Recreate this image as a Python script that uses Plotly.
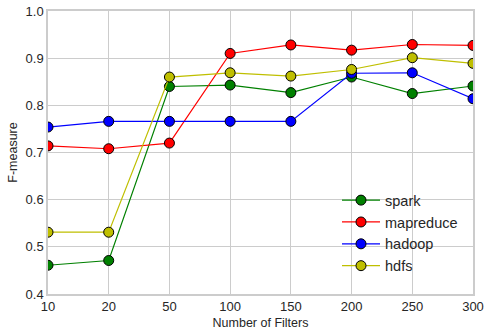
import plotly.graph_objects as go

categories = ["10", "20", "50", "100", "150", "200", "250", "300"]
spark = [0.461, 0.471, 0.840, 0.843, 0.827, 0.860, 0.825, 0.841]
mapreduce = [0.714, 0.708, 0.720, 0.910, 0.928, 0.917, 0.929, 0.927]
hadoop = [0.754, 0.766, 0.766, 0.766, 0.766, 0.868, 0.869, 0.814]
hdfs = [0.531, 0.531, 0.860, 0.869, 0.862, 0.876, 0.901, 0.889]
y_ticks = [0.4, 0.5, 0.6, 0.7, 0.8, 0.9, 1.0]

series = [
    ("spark", spark, "#008000"),
    ("mapreduce", mapreduce, "#ff0000"),
    ("hadoop", hadoop, "#0000ff"),
    ("hdfs", hdfs, "#bfbf00"),
]

fig = go.Figure()
for name, vals, col in series:
    fig.add_trace(go.Scatter(
        x=categories, y=vals, name=name, mode="lines+markers",
        line=dict(color=col, width=1.2),
        marker=dict(color=col, size=10, line=dict(color="black", width=1)),
    ))

txt = "#262626"
fig.update_layout(
    width=484, height=334,
    margin=dict(l=48, r=11, t=11, b=40),
    paper_bgcolor="white", plot_bgcolor="white",
    font=dict(family="Liberation Sans, Arial, sans-serif", color=txt, size=13),
    legend=dict(x=0.68, y=0.388, xanchor="left", yanchor="top",
                font=dict(size=14.5), bgcolor="rgba(0,0,0,0)",
                tracegroupgap=0, itemwidth=38),
    showlegend=True,
)
fig.update_xaxes(
    type="category", range=[0, 7], automargin=False,
    showgrid=True, gridcolor="#cccccc", gridwidth=1,
    showline=True, linecolor="#cccccc", linewidth=1.5, mirror=True,
    ticks="", tickfont=dict(size=13, color=txt),
    title=dict(text="Number of Filters", font=dict(size=12.5, color=txt), standoff=5),
    zeroline=False,
)
fig.update_yaxes(
    range=[0.4, 1.0], tickvals=y_ticks, tickformat=".1f", automargin=False,
    showgrid=True, gridcolor="#cccccc", gridwidth=1,
    showline=True, linecolor="#cccccc", linewidth=1.5, mirror=True,
    ticks="", tickfont=dict(size=13, color=txt),
    title=dict(text="F-measure", font=dict(size=12.5, color=txt), standoff=5),
    zeroline=False,
)

fig.write_html("out.html", config={"displayModeBar": False},
               post_script="document.body.style.margin='0';")
